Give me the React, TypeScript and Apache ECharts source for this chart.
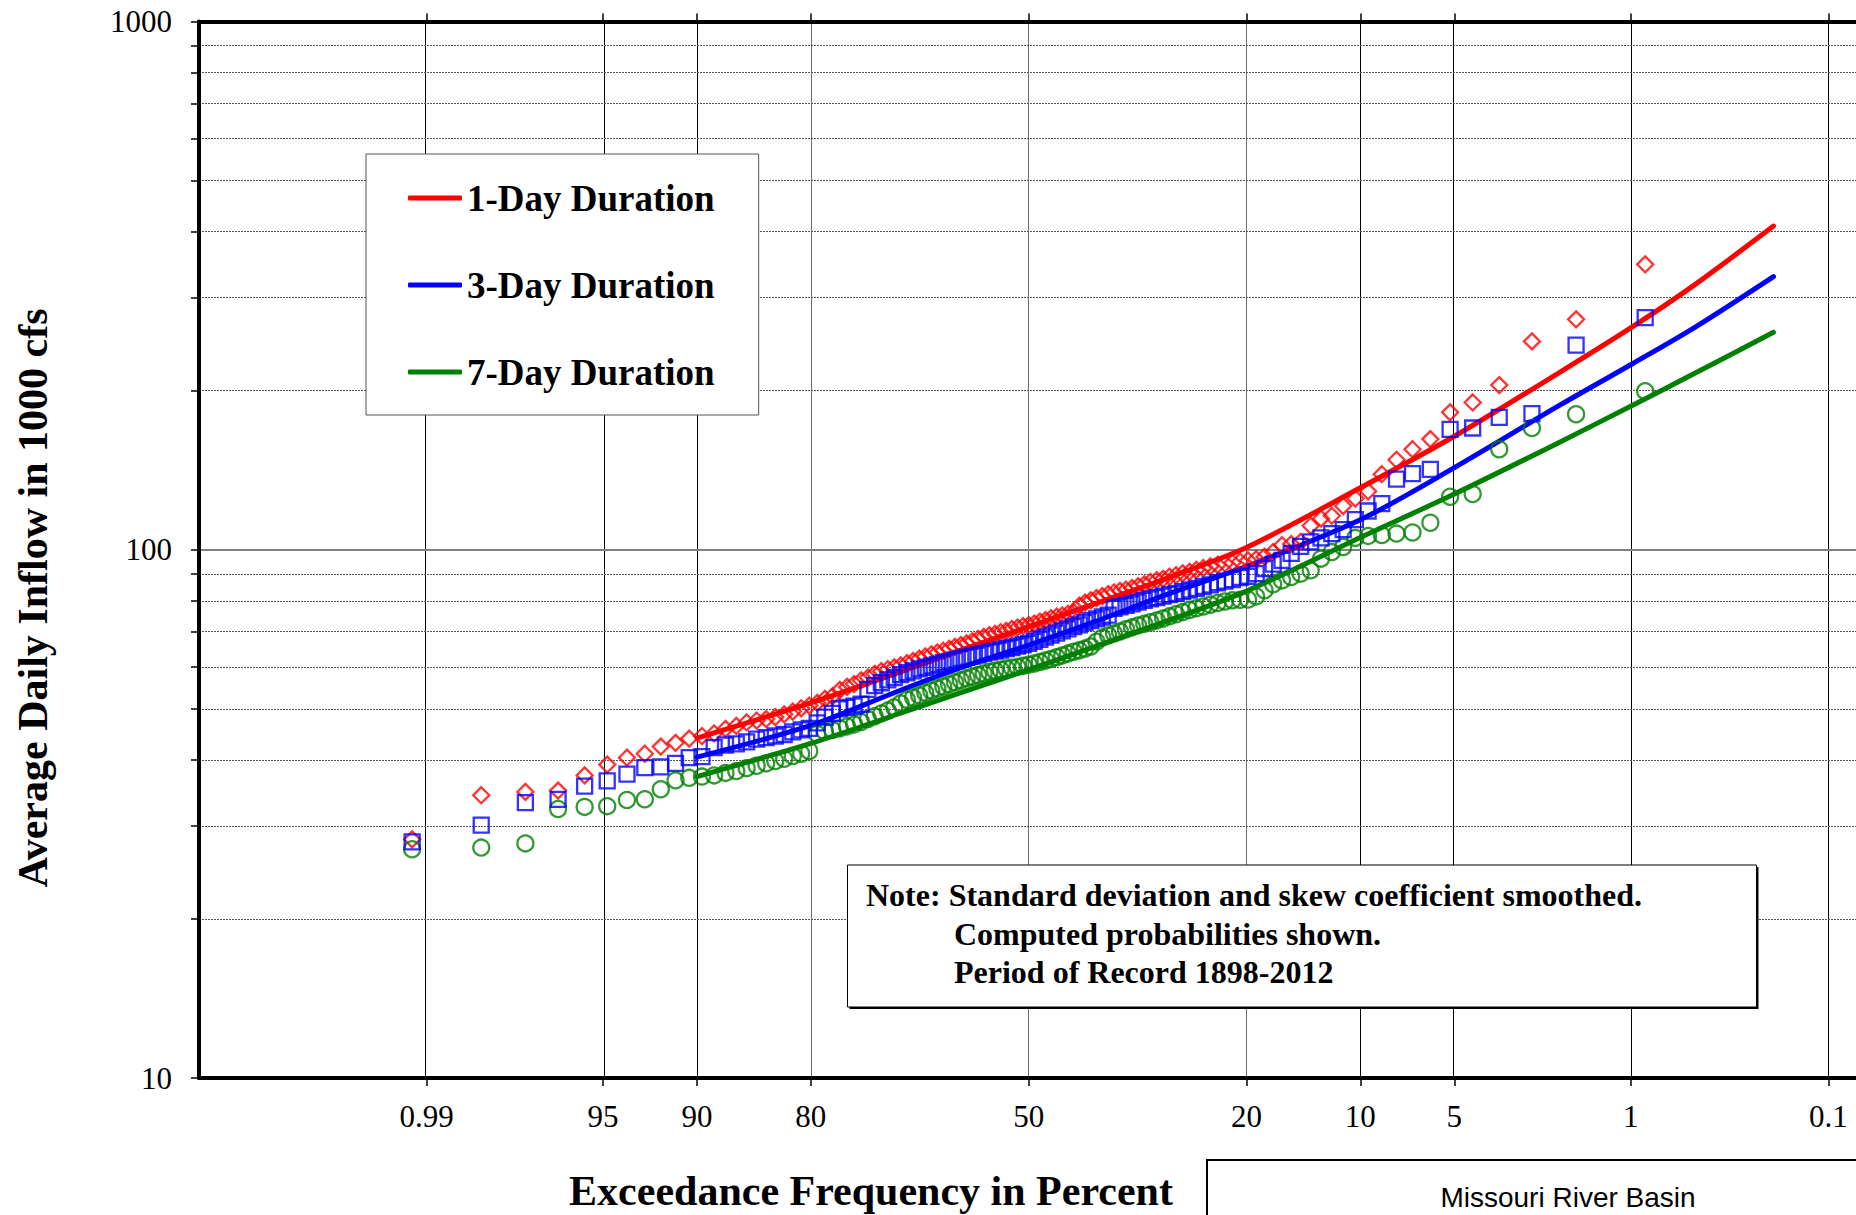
import React, { useEffect, useRef } from "react";
import * as echarts from "echarts";

const SERIF = '"Liberation Serif", "Times New Roman", serif';
const SANS = '"Liberation Sans", Arial, sans-serif';

// Exceedance frequency (percent) of each ranked observation (115 years of record)
const EXCEEDANCE_PCT = [
  0.86, 1.72, 2.59, 3.45, 4.31, 5.17, 6.03, 6.9, 7.76, 8.62,
  9.48, 10.34, 11.21, 12.07, 12.93, 13.79, 14.66, 15.52, 16.38, 17.24,
  18.1, 18.97, 19.83, 20.69, 21.55, 22.41, 23.28, 24.14, 25.0, 25.86,
  26.72, 27.59, 28.45, 29.31, 30.17, 31.03, 31.9, 32.76, 33.62, 34.48,
  35.34, 36.21, 37.07, 37.93, 38.79, 39.66, 40.52, 41.38, 42.24, 43.1,
  43.97, 44.83, 45.69, 46.55, 47.41, 48.28, 49.14, 50.0, 50.86, 51.72,
  52.59, 53.45, 54.31, 55.17, 56.03, 56.9, 57.76, 58.62, 59.48, 60.34,
  61.21, 62.07, 62.93, 63.79, 64.66, 65.52, 66.38, 67.24, 68.1, 68.97,
  69.83, 70.69, 71.55, 72.41, 73.28, 74.14, 75.0, 75.86, 76.72, 77.59,
  78.45, 79.31, 80.17, 81.03, 81.9, 82.76, 83.62, 84.48, 85.34, 86.21,
  87.07, 87.93, 88.79, 89.66, 90.52, 91.38, 92.24, 93.1, 93.97, 94.83,
  95.69, 96.55, 97.41, 98.28, 99.14,
];

// Observed average daily inflow (1000 cfs), ranked
const ONE_DAY_OBS = [
  347, 273, 248, 205, 190, 182, 162, 155, 148, 139,
  129, 125, 121, 116, 114.5, 111, 103.5, 102.5, 102, 99,
  97, 96, 95.5, 95, 94.5, 94.2, 93.6, 93.0, 92.3, 91.6,
  90.8, 90.2, 89.5, 88.9, 88.1, 87.6, 86.9, 86.0, 85.3, 84.6,
  84.0, 83.6, 83.0, 82.4, 81.7, 81.0, 80.2, 79.4, 78.4, 76.2,
  75.6, 75.1, 74.7, 74.2, 73.6, 73.1, 72.5, 72.0, 71.7, 71.2,
  70.8, 70.2, 69.8, 69.3, 68.9, 68.4, 67.8, 67.1, 66.5, 66.0,
  65.5, 64.9, 64.4, 63.9, 63.4, 62.8, 62.2, 61.6, 61.0, 60.4,
  59.9, 59.4, 58.9, 58.2, 57.3, 56.6, 55.7, 55.0, 54.3, 52.8,
  52.2, 51.3, 50.7, 50.1, 49.4, 48.8, 48.2, 47.8, 47.5, 47.1,
  46.4, 45.8, 44.9, 44.4, 43.9, 43.1, 42.4, 41.1, 40.4, 39.2,
  37.4, 35.0, 34.8, 34.3, 28.3,
];
const THREE_DAY_OBS = [
  275, 244, 181, 178, 170, 169, 142, 139.4, 136, 122.3,
  118.4, 114, 109.2, 107.3, 105.3, 103.5, 101.5, 98.4, 95.5, 93.9,
  92.1, 90.1, 89.1, 88.6, 87.8, 87.2, 86.6, 85.8, 85.2, 84.5,
  83.9, 83.3, 82.7, 82.2, 81.7, 81.2, 80.7, 80.2, 79.6, 79.0,
  78.5, 78.0, 77.5, 75.2, 74.6, 74.0, 73.4, 72.8, 72.1, 71.5,
  70.8, 70.2, 69.5, 68.9, 68.3, 67.7, 67.1, 66.5, 66.1, 65.7,
  65.3, 65.0, 64.6, 64.3, 64.0, 63.6, 63.2, 62.9, 62.6, 62.3,
  61.9, 61.5, 61.1, 60.7, 60.3, 59.9, 59.5, 59.0, 58.5, 58.0,
  57.3, 56.7, 56.0, 55.3, 54.4, 51.0, 50.6, 50.3, 50.0, 49.0,
  48.2, 47.0, 45.9, 45.6, 45.2, 44.7, 44.4, 44.1, 43.8, 43.3,
  42.9, 42.7, 42.2, 40.6, 40.4, 39.4, 38.8, 38.7, 37.6, 36.5,
  35.7, 33.7, 33.2, 30.1, 28.0,
];
const SEVEN_DAY_OBS = [
  199.6, 180.5, 170, 155, 127.5, 126, 112.5, 107.8, 107.3, 106.6,
  106.2, 105.3, 101.2, 99.0, 96.2, 91.4, 90.1, 88.8, 87.5, 86.0,
  83.8, 81.6, 80.5, 80.4, 80.2, 79.8, 79.3, 78.7, 78.1, 77.5,
  76.9, 76.2, 75.5, 74.8, 74.1, 73.5, 72.9, 72.4, 71.9, 71.3,
  70.7, 70.0, 69.4, 68.8, 68.2, 67.0, 65.6, 65.0, 64.5, 64.1,
  63.6, 63.1, 62.6, 62.1, 61.7, 61.3, 60.9, 60.6, 60.3, 60.0,
  59.8, 59.6, 59.3, 59.0, 58.7, 58.3, 57.9, 57.5, 57.1, 56.6,
  56.1, 55.6, 55.1, 54.6, 54.1, 53.6, 53.0, 52.5, 52.0, 51.2,
  50.3, 49.6, 49.0, 48.4, 47.8, 47.2, 46.7, 46.3, 45.9, 45.6,
  45.3, 44.8, 41.6, 41.1, 40.7, 40.2, 39.8, 39.4, 39.0, 38.6,
  38.1, 37.8, 37.4, 37.2, 37.0, 36.6, 35.2, 33.7, 33.6, 32.7,
  32.6, 32.3, 27.8, 27.3, 27.1,
];

// Computed frequency curves
const CURVE_PCT = [90, 80, 70, 60, 50, 40, 30, 20, 10, 5, 2, 1, 0.5, 0.2];
const ONE_DAY_FIT = [44.0, 51.3, 58.0, 64.8, 71.5, 79.0, 88.0, 101, 131, 164, 217, 263, 318, 410];
const THREE_DAY_FIT = [40.5, 46.5, 53.5, 60.0, 66.0, 73.0, 82.0, 93.0, 114, 143, 188, 224, 264, 329];
const SEVEN_DAY_FIT = [37.2, 43.0, 48.5, 53.8, 59.3, 65.5, 73.0, 83.5, 105.5, 127.5, 160, 187, 216, 258];

const X_TICK_PCT = [99, 95, 90, 80, 50, 20, 10, 5, 1, 0.1];
const X_TICK_LABELS = ["0.99", "95", "90", "80", "50", "20", "10", "5", "1", "0.1"];
const X_GRID_COLORS = ["#000", "#000", "#000", "#6e6e6e", "#6e6e6e", "#6e6e6e", "#000", "#000", "#000", "#000"];
const Y_MAJOR = [10, 100, 1000];
const Y_MINOR = [20, 30, 40, 50, 60, 70, 80, 90, 200, 300, 400, 500, 600, 700, 800, 900];
const X_MIN_Z = -3.206;
const X_MAX_Z = 3.197;

const SERIES_NAMES = ["1-Day Duration", "3-Day Duration", "7-Day Duration"];
const COLORS = ["#ff0000", "#0000ff", "#008000"];

// standard normal quantile (Acklam)
function normInv(p: number): number {
  const a = [-3.969683028665376e1, 2.209460984245205e2, -2.759285104469687e2, 1.38357751867269e2, -3.066479806614716e1, 2.506628277459239];
  const b = [-5.447609879822406e1, 1.615858368580409e2, -1.556989798598866e2, 6.680131188771972e1, -1.328068155288572e1];
  const c = [-7.784894002430293e-3, -3.223964580411365e-1, -2.400758277161838, -2.549732539343734, 4.374664141464968, 2.938163982698783];
  const d = [7.784695709041462e-3, 3.224671290700398e-1, 2.445134137142996, 3.754408661907416];
  const pLow = 0.02425;
  if (p < pLow) {
    const q = Math.sqrt(-2 * Math.log(p));
    return (((((c[0] * q + c[1]) * q + c[2]) * q + c[3]) * q + c[4]) * q + c[5]) / ((((d[0] * q + d[1]) * q + d[2]) * q + d[3]) * q + 1);
  }
  if (p <= 1 - pLow) {
    const q = p - 0.5;
    const r = q * q;
    return ((((((a[0] * r + a[1]) * r + a[2]) * r + a[3]) * r + a[4]) * r + a[5]) * q) / (((((b[0] * r + b[1]) * r + b[2]) * r + b[3]) * r + b[4]) * r + 1);
  }
  const q = Math.sqrt(-2 * Math.log(1 - p));
  return -(((((c[0] * q + c[1]) * q + c[2]) * q + c[3]) * q + c[4]) * q + c[5]) / ((((d[0] * q + d[1]) * q + d[2]) * q + d[3]) * q + 1);
}
// probability-scale position of an exceedance percentage
const zOf = (pct: number) => normInv(1 - pct / 100);

function buildOption() {
  const xTickZ = X_TICK_PCT.map(zOf);
  const labelFor = (v: number) => {
    for (let k = 0; k < xTickZ.length; k++) if (Math.abs(xTickZ[k] - v) < 1e-6) return X_TICK_LABELS[k];
    return "";
  };
  const yTicksAll = [...Y_MAJOR, ...Y_MINOR].sort((p, q) => p - q);

  const fits = [ONE_DAY_FIT, THREE_DAY_FIT, SEVEN_DAY_FIT];
  const lineSeries = fits.map((fit, k) => {
    const s: any = {
      name: SERIES_NAMES[k],
      type: "line",
      symbol: "none",
      showSymbol: false,
      smooth: 0.3,
      z: 3,
      lineStyle: { color: COLORS[k], width: 5, cap: "round" },
      itemStyle: { color: COLORS[k] },
      data: CURVE_PCT.map((p, j) => [zOf(p), fit[j]]),
    };
    if (k === 0) {
      s.markLine = {
        silent: true,
        z: 1,
        symbol: ["none", "none"],
        label: { show: false },
        emphasis: { disabled: true },
        animation: false,
        data: [
          ...X_TICK_PCT.map((p, j) => ({ xAxis: zOf(p), lineStyle: { color: X_GRID_COLORS[j], width: 1, type: "solid" } })),
          ...Y_MINOR.map((v) => ({ yAxis: v, lineStyle: { color: "#555", width: 1, type: [2, 1] } })),
          { yAxis: 100, lineStyle: { color: "#808080", width: 2, type: "solid" } },
        ],
      };
    }
    return s;
  });

  const obsSets = [
    { name: "1-Day Observed", data: ONE_DAY_OBS, symbol: "diamond", size: 16, color: COLORS[0] },
    { name: "7-Day Observed", data: SEVEN_DAY_OBS, symbol: "circle", size: 16, color: COLORS[2] },
    { name: "3-Day Observed", data: THREE_DAY_OBS, symbol: "rect", size: 15, color: COLORS[1] },
  ];
  const scatterSeries = obsSets.map((o) => ({
    name: o.name,
    type: "scatter",
    symbol: o.symbol,
    symbolSize: o.size,
    z: 4,
    itemStyle: { color: "rgba(0,0,0,0)", borderColor: o.color, borderWidth: 2.3 },
    data: EXCEEDANCE_PCT.map((p, j) => [zOf(p), o.data[j]]),
  }));

  const axisFont = { fontFamily: SERIF, fontSize: 31, color: "#000" };

  return {
    animation: false,
    backgroundColor: "#fff",
    grid: { left: 199, top: 21.5, right: 0, bottom: 137, containLabel: false },
    xAxis: [
      {
        type: "value",
        position: "bottom",
        min: X_MIN_Z,
        max: X_MAX_Z,
        z: 10,
        axisLine: { show: true, onZero: false, lineStyle: { color: "#000", width: 4 } },
        axisTick: { show: true, customValues: xTickZ, length: 8, lineStyle: { color: "#000", width: 1.5 } },
        axisLabel: { show: true, customValues: xTickZ, formatter: (v: number) => labelFor(v), margin: 23, ...axisFont },
        splitLine: { show: false },
      },
      {
        type: "value",
        position: "top",
        min: X_MIN_Z,
        max: X_MAX_Z,
        z: 10,
        axisLine: { show: true, onZero: false, lineStyle: { color: "#000", width: 4 } },
        axisTick: { show: true, customValues: xTickZ, length: 8, lineStyle: { color: "#000", width: 1.5 } },
        axisLabel: { show: false },
        splitLine: { show: false },
      },
    ],
    yAxis: {
      type: "log",
      logBase: 10,
      min: 10,
      max: 1000,
      z: 10,
      axisLine: { show: true, onZero: false, lineStyle: { color: "#000", width: 4 } },
      axisTick: { show: true, customValues: yTicksAll, length: 8, lineStyle: { color: "#000", width: 1.5 } },
      axisLabel: { show: true, customValues: Y_MAJOR, margin: 27, formatter: (v: number) => String(Math.round(v)), ...axisFont },
      splitLine: { show: false },
      minorTick: { show: false },
    },
    legend: {
      data: SERIES_NAMES,
      orient: "vertical",
      left: 366,
      top: 154,
      padding: [24, 44, 23, 42],
      itemGap: 47,
      itemWidth: 54,
      itemHeight: 5,
      icon: "roundRect",
      selectedMode: false,
      backgroundColor: "#fff",
      borderColor: "#555",
      borderWidth: 1,
      textStyle: { fontFamily: SERIF, fontSize: 37, fontWeight: "bold", color: "#000", lineHeight: 40 },
    },
    graphic: [
      {
        type: "text",
        x: 33,
        y: 598,
        rotation: Math.PI / 2,
        z: 100,
        style: {
          text: "Average Daily Inflow in 1000 cfs",
          font: `bold 42px ${SERIF}`,
          fill: "#000",
          align: "center",
          verticalAlign: "middle",
          textAlign: "center",
          textVerticalAlign: "middle",
        },
      },
      {
        type: "text",
        x: 871,
        y: 1191,
        z: 100,
        style: {
          text: "Exceedance Frequency in Percent",
          font: `bold 42px ${SERIF}`,
          fill: "#000",
          align: "center",
          verticalAlign: "middle",
          textAlign: "center",
          textVerticalAlign: "middle",
        },
      },
      {
        type: "rect",
        z: 99,
        shape: { x: 849.5, y: 867, width: 909, height: 142 },
        style: { fill: "#000" },
      },
      {
        type: "rect",
        z: 100,
        shape: { x: 847.5, y: 865, width: 909, height: 142 },
        style: { fill: "#fff", stroke: "#000", lineWidth: 1 },
      },
      {
        type: "text",
        x: 866,
        y: 895,
        z: 101,
        style: { text: "Note: Standard deviation and skew coefficient smoothed.", font: `bold 32px ${SERIF}`, fill: "#000", align: "left", verticalAlign: "middle", textAlign: "left", textVerticalAlign: "middle" },
      },
      {
        type: "text",
        x: 954,
        y: 934,
        z: 101,
        style: { text: "Computed probabilities shown.", font: `bold 32px ${SERIF}`, fill: "#000", align: "left", verticalAlign: "middle", textAlign: "left", textVerticalAlign: "middle" },
      },
      {
        type: "text",
        x: 954,
        y: 972,
        z: 101,
        style: { text: "Period of Record 1898-2012", font: `bold 32px ${SERIF}`, fill: "#000", align: "left", verticalAlign: "middle", textAlign: "left", textVerticalAlign: "middle" },
      },
      {
        type: "rect",
        z: 100,
        shape: { x: 1207, y: 1160, width: 800, height: 200 },
        style: { fill: "#fff", stroke: "#000", lineWidth: 2 },
      },
      {
        type: "text",
        x: 1568,
        y: 1197,
        z: 101,
        style: { text: "Missouri River Basin", font: `28px ${SANS}`, fill: "#000", align: "center", verticalAlign: "middle", textAlign: "center", textVerticalAlign: "middle" },
      },
    ],
    series: [...lineSeries, ...scatterSeries],
  };
}

export default function App() {
  const ref = useRef<HTMLDivElement>(null);
  useEffect(() => {
    if (!ref.current) return;
    const chart = echarts.init(ref.current, null, { renderer: "svg" });
    chart.setOption(buildOption() as any);
    return () => chart.dispose();
  }, []);
  return (
    <div
      ref={ref}
      style={{ position: "fixed", left: 0, top: 0, width: 1856, height: 1215, background: "#fff" }}
    />
  );
}
